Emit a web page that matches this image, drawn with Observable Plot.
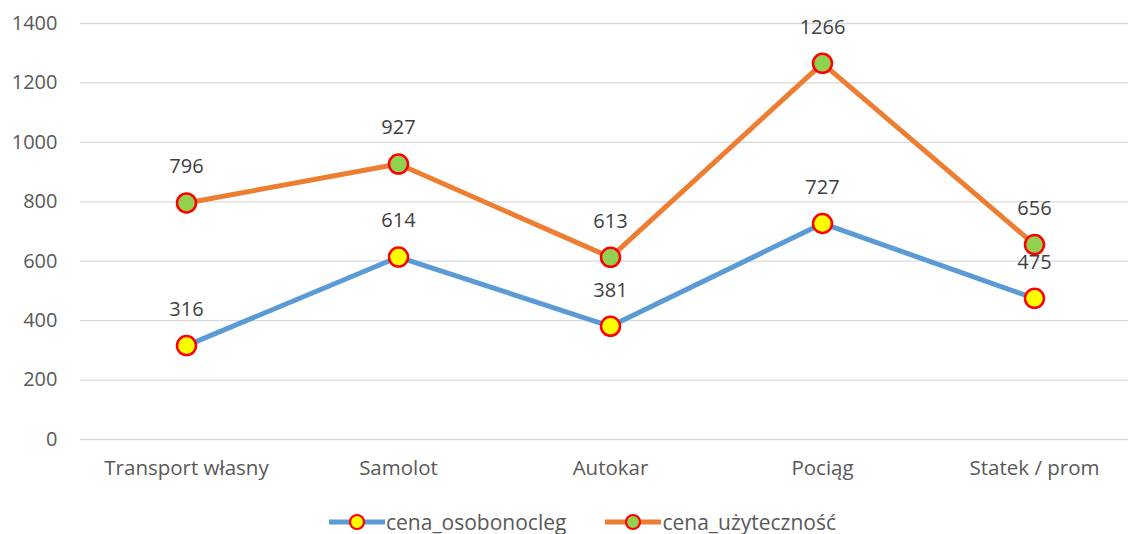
<!DOCTYPE html>
<html><head><meta charset="utf-8">
<script src="https://cdn.jsdelivr.net/npm/d3@7"></script>
<script src="https://cdn.jsdelivr.net/npm/@observablehq/plot@0.6"></script>
<style>
html,body{margin:0;background:#fff;font-family:"Open Sans",sans-serif;overflow:hidden;}
#chart svg{display:block;}
#legend{display:flex;justify-content:center;align-items:center;height:24px;padding-top:30px;gap:38px;font-size:21px;color:#595959;padding-left:36px;}
.item{display:flex;align-items:center;}
.item svg{display:block;}
</style></head><body>
<div id="chart"></div>
<div id="legend"></div>
<script>
const categories = ["Transport własny","Samolot","Autokar","Pociąg","Statek / prom"];
const osobonocleg = [316,614,381,727,475];
const uzytecznosc = [796,927,613,1266,656];
const seriesNames = ["cena_osobonocleg","cena_użyteczność"];
const yTicks = [0,200,400,600,800,1000,1200,1400];
const lineColors = ["#5B9BD5","#ED7D31"];
const fillColors = ["#FFFF00","#92D050"];
const markerStroke = "#FF0000";

const rows = [];
[osobonocleg, uzytecznosc].forEach((vals, s) => vals.forEach((v, i) => rows.push({series: seriesNames[s], cat: categories[i], value: v, s})));
const A = rows.filter(d => d.s === 0), B = rows.filter(d => d.s === 1);

const chart = Plot.plot({
  width: 1128, height: 480,
  marginLeft: 80, marginRight: 0, marginTop: 23, marginBottom: 41,
  style: {fontFamily: "Open Sans, sans-serif", fontSize: "20px", color: "#595959", background: "#fff"},
  x: {type: "point", domain: categories, range: [186, 1034], padding: 0},
  y: {domain: [0, 1400]},
  marks: [
    Plot.ruleY(yTicks, {stroke: "#D9D9D9", strokeWidth: 1.3}),
    Plot.axisY({ticks: yTicks, tickFormat: d => String(d), tickSize: 0, tickPadding: 23, fontSize: 20, label: null, fill: "#595959"}),
    Plot.axisX({tickSize: 0, tickPadding: 21, fontSize: 20.5, label: null, fill: "#595959"}),
    Plot.line(A, {x: "cat", y: "value", stroke: lineColors[0], strokeWidth: 5}),
    Plot.line(B, {x: "cat", y: "value", stroke: lineColors[1], strokeWidth: 5}),
    Plot.dot(A, {x: "cat", y: "value", r: 9.5, fill: fillColors[0], stroke: markerStroke, strokeWidth: 2.5}),
    Plot.dot(B, {x: "cat", y: "value", r: 9.5, fill: fillColors[1], stroke: markerStroke, strokeWidth: 2.5}),
    Plot.text(rows, {x: "cat", y: "value", text: d => String(d.value), dy: -36, fontSize: 20, fill: "#404040"})
  ]
});
document.getElementById("chart").appendChild(chart);

const leg = document.getElementById("legend");
seriesNames.forEach((name, i) => {
  const it = document.createElement("div");
  it.className = "item";
  it.innerHTML = `<svg width="58" height="24"><line x1="1" y1="12" x2="57" y2="12" stroke="${lineColors[i]}" stroke-width="5"/><circle cx="29" cy="12" r="7" fill="${fillColors[i]}" stroke="${markerStroke}" stroke-width="2.2"/></svg><span>${name}</span>`;
  leg.appendChild(it);
});
</script>
</body></html>
